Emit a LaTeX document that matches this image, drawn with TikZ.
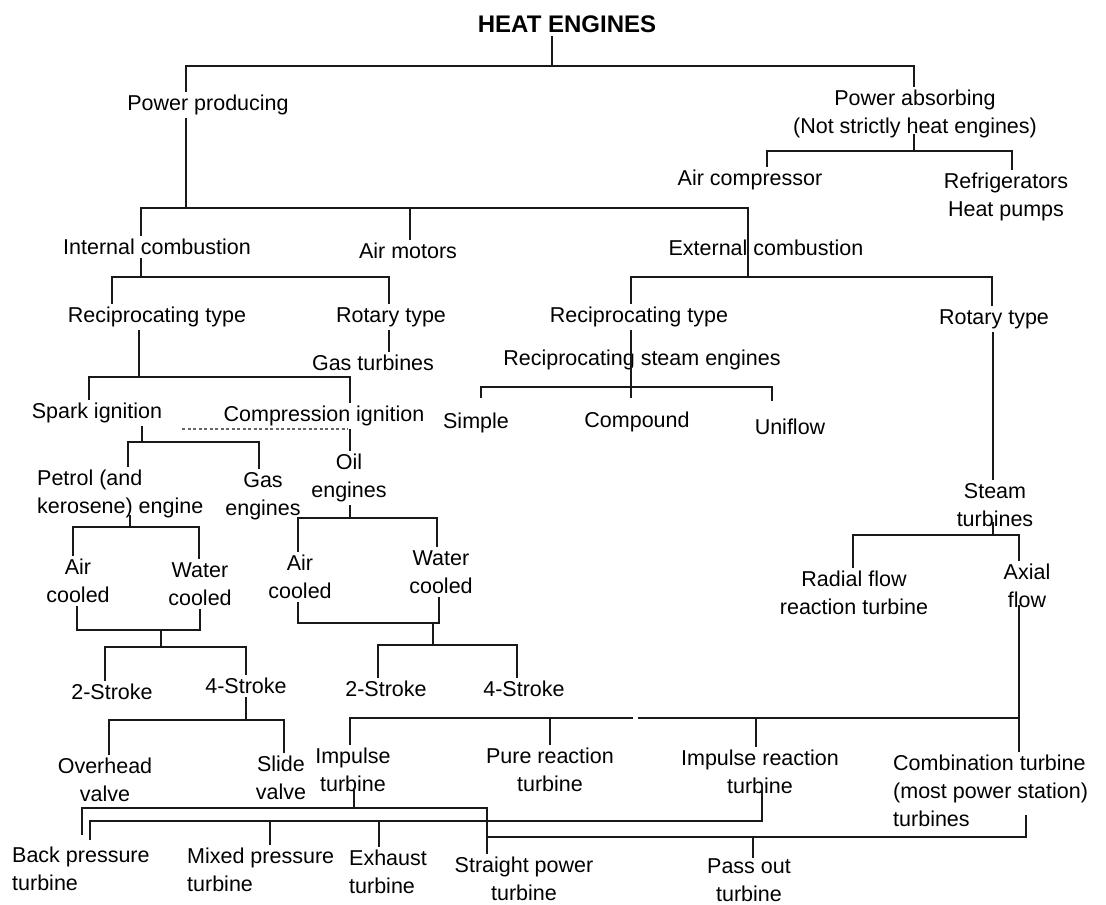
\documentclass[tikz,border=0pt]{standalone}
\usepackage{fontspec}
\setmainfont{Liberation Sans}
\begin{document}
\begin{tikzpicture}[x=1pt,y=-1pt]
  \tikzset{lbl/.style={align=center,inner sep=3pt,text=black,font=\fontsize{21.5}{28}\selectfont},
    lbll/.style={lbl,align=left,anchor=west},
    tie/.style={draw=black!90,line width=2.8pt},
    dots/.style={draw=black!60,line width=1.8pt,dash pattern=on 3pt off 2.5pt}}
  \path[use as bounding box,fill=white] (0,0) rectangle (1106,905);
  % labels
  \node[lbl,font=\fontsize{24}{28}\selectfont\bfseries] (heat) at (567,24) {HEAT ENGINES};
  \node[lbl] (pp) at (208,105) {Power producing};
  \node[lbl] (pa) at (915,114) {Power absorbing\\(Not strictly heat engines)};
  \node[lbl] (ac) at (750,180) {Air compressor};
  \node[lbl] (rf) at (1006,197) {Refrigerators\\Heat pumps};
  \node[lbl] (ic) at (157,247) {Internal combustion};
  \node[lbl] (am) at (408,251) {Air motors};
  \node[lbl] (ec) at (766,248) {External combustion};
  \node[lbl] (rl) at (157,317) {Reciprocating type};
  \node[lbl] (rtl) at (391,317) {Rotary type};
  \node[lbl] (gt) at (373,363) {Gas turbines};
  \node[lbl] (si) at (97,413) {Spark ignition};
  \node[lbl] (ci) at (324,416) {Compression ignition};
  \node[lbll] (pe) at (34,494) {Petrol (and\\kerosene) engine};
  \node[lbl] (ge) at (263,496) {Gas\\engines};
  \node[lbl] (oe) at (349,478) {Oil\\engines};
  \node[lbl] (acl) at (78,581) {Air\\cooled};
  \node[lbl] (wcl) at (200,584) {Water\\cooled};
  \node[lbl] (acm) at (300,577) {Air\\cooled};
  \node[lbl] (wcm) at (441,572) {Water\\cooled};
  \node[lbl] (s2l) at (112,692) {2-Stroke};
  \node[lbl] (s4l) at (246,686) {4-Stroke};
  \node[lbl] (s2m) at (386,689) {2-Stroke};
  \node[lbl] (s4m) at (524,689) {4-Stroke};
  \node[lbl] (ov) at (105,780) {Overhead\\valve};
  \node[lbl] (sv) at (281,778) {Slide\\valve};
  \node[lbl] (rr) at (639,317) {Reciprocating type};
  \node[lbl] (rse) at (642,360) {Reciprocating steam engines};
  \node[lbl] (sim) at (476,423) {Simple};
  \node[lbl] (com) at (637,422) {Compound};
  \node[lbl] (uni) at (790,427) {Uniflow};
  \node[lbl] (rtr) at (994,319) {Rotary type};
  \node[lbl] (st) at (995,505) {Steam\\turbines};
  \node[lbl] (rad) at (854,593) {Radial flow\\reaction turbine};
  \node[lbl] (ax) at (1027,586) {Axial\\flow};
  \node[lbl] (imp) at (353,770) {Impulse\\turbine};
  \node[lbl] (pr) at (550,770) {Pure reaction\\turbine};
  \node[lbl] (ir) at (760,772) {Impulse reaction\\turbine};
  \node[lbll] (cb) at (890,791) {Combination turbine\\(most power station)\\turbines};
  \node[lbll] (bp) at (9,869) {Back pressure\\turbine};
  \node[lbll] (mp) at (184,870) {Mixed pressure\\turbine};
  \node[lbll] (ex) at (346,872) {Exhaust\\turbine};
  \node[lbl] (sp) at (524,879) {Straight power\\turbine};
  \node[lbl] (po) at (749,880) {Pass out\\turbine};
  % junctions on the bars
  \coordinate (topbar) at (552,66);
  \coordinate (absbar) at (914,151);
  \coordinate (prodbar) at (186,208);
  \coordinate (amj) at (410,208);
  \coordinate (icbar) at (141,277);
  \coordinate (ecbar) at (748,277);
  \coordinate (recbar) at (139,377);
  \coordinate (sparkbar) at (142,442);
  \coordinate (petbar) at (130,527);
  \coordinate (oilbar) at (350,518);
  \coordinate (pcool) at (161,630);
  \coordinate (pstroke) at (161,647);
  \coordinate (ocool) at (433,623);
  \coordinate (ostroke) at (433,645);
  \coordinate (fourbar) at (246,720);
  \coordinate (steambar) at (993,535);
  \coordinate (gapl) at (633,718);
  \coordinate (gapr) at (638,718);
  \coordinate (turbar) at (550,718);
  \coordinate (irj) at (756,718);
  \coordinate (impbar) at (354,808);
  \coordinate (mpj) at (270,821);
  \coordinate (exj) at (379,821);
  \coordinate (passbar) at (753,837);
  % connectors
  \draw[tie] (heat.south -| topbar) -- (topbar);
  \draw[tie] (pp.north -| 186,0) -- (186,66) -- (914,66) -- (pa.north -| 914,0);
  \draw[tie,shorten <=-7pt] (pa.south -| absbar) -- (absbar);
  \draw[tie] (ac.north -| 767,0) -- (767,151) -- (1012,151) -- (rf.north -| 1012,0);
  \draw[tie] (pp.south -| prodbar) -- (prodbar);
  \draw[tie] (ic.north -| icbar) -- (141,208) -- (748,208) -- (ecbar);
  \draw[tie] (amj) -- (am.north -| amj);
  \draw[tie] (ic.south -| icbar) -- (icbar);
  \draw[tie] (rl.north -| 112,0) -- (112,277) -- (389,277) -- (rtl.north -| 389,0);
  \draw[tie] (rtl.south -| 389,0) -- (gt.north -| 389,0);
  \draw[tie] (rl.south -| recbar) -- (recbar);
  \draw[tie] (si.north -| 89,0) -- (89,377) -- (350,377) -- (ci.north -| 350,0);
  \draw[dots] (ci.south -| 182,0) -- (ci.south -| 348,0);
  \draw[tie] (ci.south -| oilbar) -- (oe.north -| oilbar);
  \draw[tie] (si.south -| sparkbar) -- (sparkbar);
  \draw[tie] (pe.north -| 128,0) -- (128,442) -- (259,442) -- (ge.north -| 259,0);
  \draw[tie,shorten <=-6pt] (pe.south -| petbar) -- (petbar);
  \draw[tie] (acl.north -| 73,0) -- (73,527) -- (199,527) -- (wcl.north -| 199,0);
  \draw[tie] (oe.south -| oilbar) -- (oilbar);
  \draw[tie] (acm.north -| 298,0) -- (298,518) -- (437,518) -- (wcm.north -| 437,0);
  \draw[tie] (acl.south -| 77,0) -- (77,630) -- (200,630) -- (wcl.south -| 200,0);
  \draw[tie] (pcool) -- (pstroke);
  \draw[tie] (s2l.north -| 105,0) -- (105,647) -- (246,647) -- (s4l.north -| 246,0);
  \draw[tie] (acm.south -| 298,0) -- (298,623) -- (439,623) -- (wcm.south -| 439,0);
  \draw[tie] (ocool) -- (ostroke);
  \draw[tie] (s2m.north -| 378,0) -- (378,645) -- (517,645) -- (s4m.north -| 517,0);
  \draw[tie] (s4l.south -| fourbar) -- (fourbar);
  \draw[tie] (ov.north -| 109,0) -- (109,720) -- (284,720) -- (sv.north -| 284,0);
  \draw[tie] (rr.north -| 631,0) -- (631,277) -- (992,277) -- (rtr.north -| 992,0);
  \draw[tie,shorten >=11pt] (rr.south -| 631,0) -- (com.north -| 631,0);
  \draw[tie,shorten <=12pt,shorten >=15pt] (sim.north -| 481,0) -- (481,387) -- (772,387) -- (uni.north -| 772,0);
  \draw[tie] (rtr.south -| 993,0) -- (st.north -| 993,0);
  \draw[tie,shorten <=-8pt] (st.south -| steambar) -- (steambar);
  \draw[tie] (rad.north -| 853,0) -- (853,535) -- (1019,535) -- (ax.north -| 1019,0);
  \draw[tie,shorten <=-6pt] (ax.south -| 1019,0) -- (cb.north -| 1019,0);
  \draw[tie] (imp.north -| 350,0) -- (350,718) -- (gapl);
  \draw[tie] (gapr) -- (1019,718);
  \draw[tie] (turbar) -- (pr.north -| turbar);
  \draw[tie] (irj) -- (ir.north -| irj);
  \draw[tie,shorten <=-7pt] (imp.south -| impbar) -- (impbar);
  \draw[tie,shorten <=9pt] (bp.north -| 82,0) -- (82,808) -- (487,808) -- (sp.north -| 487,0);
  \draw[tie,shorten <=4pt,shorten >=-12pt] (bp.north -| 90,0) -- (90,821) -- (762,821) -- (ir.south -| 762,0);
  \draw[tie] (mpj) -- (mp.north -| mpj);
  \draw[tie] (exj) -- (ex.north -| exj);
  \draw[tie,shorten <=-15pt] (cb.south -| 1026,0) -- (1026,837) -- (487,837);
  \draw[tie,shorten >=-3pt] (passbar) -- (po.north -| passbar);
\end{tikzpicture}
\end{document}
